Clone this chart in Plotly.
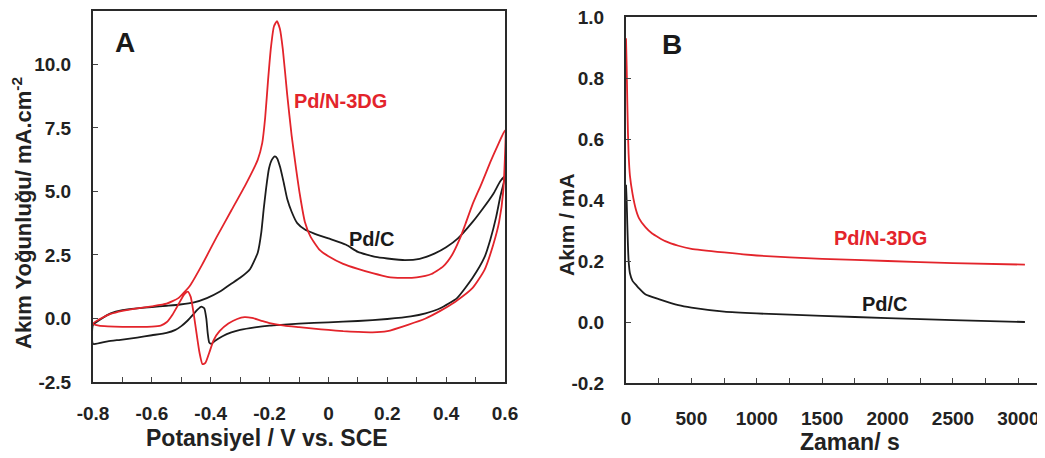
import plotly.graph_objects as go

# ---------------- Panel A : cyclic voltammograms ----------------
# Pd/N-3DG (red) – forward scan then reverse scan
cv_pdn3dg_potential = [
    -0.80, -0.78, -0.75, -0.70, -0.65, -0.60, -0.57, -0.55, -0.53, -0.51, -0.49, -0.478,
    -0.468, -0.458, -0.448, -0.438, -0.428, -0.418, -0.405, -0.39, -0.37, -0.34, -0.31,
    -0.285, -0.26, -0.23, -0.20, -0.15, -0.10, -0.05, 0.00, 0.05, 0.10, 0.15, 0.20, 0.27,
    0.33, 0.38, 0.43, 0.49, 0.53, 0.56, 0.58, 0.594, 0.60,
    0.575, 0.55, 0.52, 0.49, 0.465, 0.447, 0.42, 0.39, 0.35, 0.30, 0.25, 0.20, 0.15, 0.10,
    0.05, 0.00, -0.03, -0.06, -0.08, -0.096, -0.11, -0.125, -0.14, -0.155, -0.165, -0.175,
    -0.185, -0.195, -0.205, -0.215, -0.225, -0.24, -0.28, -0.33, -0.38, -0.43, -0.47, -0.51,
    -0.55, -0.60, -0.65, -0.70, -0.74, -0.77, -0.80,
]
cv_pdn3dg_current = [
    -0.20, -0.28, -0.31, -0.33, -0.33, -0.32, -0.28, -0.15, 0.15, 0.55, 0.95, 1.06,
    0.85, 0.20, -0.60, -1.35, -1.80, -1.75, -1.35, -0.85, -0.50, -0.20, -0.02,
    0.05, 0.02, -0.08, -0.18, -0.28, -0.34, -0.40, -0.45, -0.50, -0.53, -0.55, -0.50, -0.25,
    0.00, 0.30, 0.65, 1.20, 1.90, 2.90, 3.80, 5.00, 7.40,
    6.80, 6.15, 5.30, 4.50, 3.70, 3.15, 2.50, 2.05, 1.75, 1.62, 1.60, 1.64, 1.78, 1.95,
    2.15, 2.45, 2.70, 3.20, 3.80, 4.80, 5.90, 7.20, 8.80, 10.60, 11.40, 11.70,
    11.50, 10.70, 9.40, 7.90, 6.90, 6.25, 5.30, 4.25, 3.20, 2.10, 1.30, 0.80,
    0.58, 0.48, 0.40, 0.30, 0.18, 0.02, -0.20,
]

# Pd/C (black)
cv_pdc_potential = [
    -0.80, -0.75, -0.70, -0.65, -0.60, -0.55, -0.52, -0.50, -0.48, -0.46, -0.445, -0.432,
    -0.422, -0.415, -0.41, -0.405, -0.398, -0.385, -0.36, -0.33, -0.30, -0.25, -0.20, -0.15,
    -0.10, 0.00, 0.10, 0.20, 0.28, 0.33, 0.38, 0.437, 0.49, 0.53, 0.55, 0.57, 0.584, 0.60,
    0.584, 0.56, 0.52, 0.49, 0.44, 0.40, 0.36, 0.31, 0.26, 0.20, 0.16, 0.10, 0.06, 0.00,
    -0.05, -0.08, -0.106, -0.125, -0.14, -0.152, -0.164, -0.174, -0.182, -0.192, -0.202,
    -0.212, -0.22, -0.228, -0.24, -0.266, -0.30, -0.334, -0.37, -0.413, -0.46, -0.504,
    -0.55, -0.60, -0.65, -0.70, -0.74, -0.77, -0.80, -0.80,
]
cv_pdc_current = [
    -1.00, -0.90, -0.83, -0.75, -0.66, -0.57, -0.45, -0.30, -0.10, 0.15, 0.35, 0.47,
    0.40, 0.00, -0.60, -0.95, -1.00, -0.88, -0.70, -0.55, -0.45, -0.35, -0.28, -0.24,
    -0.20, -0.15, -0.10, -0.02, 0.08, 0.20, 0.40, 0.80, 1.60, 2.40, 3.10, 4.00, 4.80, 5.60,
    5.40, 4.90, 4.25, 3.80, 3.15, 2.80, 2.55, 2.35, 2.30, 2.36, 2.42, 2.62, 2.90, 3.15,
    3.35, 3.50, 3.75, 4.20, 4.70, 5.35, 5.95, 6.30, 6.38, 6.25, 5.90,
    5.10, 4.30, 3.40, 2.60, 1.95, 1.60, 1.34, 1.05, 0.80, 0.62, 0.55,
    0.50, 0.45, 0.40, 0.33, 0.20, 0.00, -0.25, -1.00,
]

# ---------------- Panel B : chronoamperometry ----------------
time_pdn3dg = [0, 5, 10, 15, 20, 30, 50, 75, 100, 150, 200, 300, 400, 500, 750, 1000, 1500,
               2000, 2500, 3050]
current_pdn3dg = [0.93, 0.84, 0.72, 0.62, 0.55, 0.48, 0.42, 0.37, 0.34, 0.31, 0.29, 0.265,
                  0.25, 0.24, 0.228, 0.218, 0.207, 0.200, 0.193, 0.188]
time_pdc = [0, 5, 10, 15, 20, 30, 50, 80, 100, 150, 250, 400, 500, 750, 1000, 1500, 2000,
            2500, 3050]
current_pdc = [0.45, 0.40, 0.32, 0.25, 0.20, 0.16, 0.135, 0.12, 0.11, 0.09, 0.075, 0.055,
               0.047, 0.034, 0.028, 0.020, 0.013, 0.006, 0.0]

# tick labels
a_xticks = [-0.8, -0.6, -0.4, -0.2, 0, 0.2, 0.4, 0.6]
a_xticktext = ["-0.8", "-0.6", "-0.4", "-0.2", "0", "0.2", "0.4", "0.6"]
a_yticks = [-2.5, 0, 2.5, 5, 7.5, 10]
a_yticktext = ["-2.5", "0.0", "2.5", "5.0", "7.5", "10.0"]
b_xticks = [0, 500, 1000, 1500, 2000, 2500, 3000]
b_xticktext = ["0", "500", "1000", "1500", "2000", "2500", "3000"]
b_yticks = [-0.2, 0, 0.2, 0.4, 0.6, 0.8, 1.0]
b_yticktext = ["-0.2", "0.0", "0.2", "0.4", "0.6", "0.8", "1.0"]

RED = "#e3242b"
BLACK = "#1c1c1c"
FONT = "Liberation Sans, Arial, sans-serif"

fig = go.Figure()
fig.add_trace(go.Scatter(x=cv_pdc_potential, y=cv_pdc_current, mode="lines",
                         line=dict(color=BLACK, width=1.8, shape="spline", smoothing=0.5),
                         name="Pd/C", xaxis="x", yaxis="y"))
fig.add_trace(go.Scatter(x=cv_pdn3dg_potential, y=cv_pdn3dg_current, mode="lines",
                         line=dict(color=RED, width=1.8, shape="spline", smoothing=0.5),
                         name="Pd/N-3DG", xaxis="x", yaxis="y"))
fig.add_trace(go.Scatter(x=time_pdc, y=current_pdc, mode="lines",
                         line=dict(color=BLACK, width=1.8, shape="spline", smoothing=0.4),
                         name="Pd/C", xaxis="x2", yaxis="y2"))
fig.add_trace(go.Scatter(x=time_pdn3dg, y=current_pdn3dg, mode="lines",
                         line=dict(color=RED, width=1.8, shape="spline", smoothing=0.4),
                         name="Pd/N-3DG", xaxis="x2", yaxis="y2"))

# The page body has an 8px margin, so the figure is sized to fit inside the window
OX, OY = 8, 8
W, H = 1045 - OX, 458 - OY


def px(x):  # page pixel x -> paper fraction
    return (x - OX) / W


def py(y):  # page pixel y -> paper fraction (from bottom)
    return 1 - (y - OY) / H


axis_common = dict(showline=True, linecolor="#2a2a2a", linewidth=2, mirror=True,
                   ticks="inside", ticklen=5, tickwidth=1.2, tickcolor="#444",
                   showgrid=False, zeroline=False, automargin=False,
                   ticklabeloverflow="allow",
                   tickfont=dict(family=FONT, size=19, color="#222", weight="bold"))

fig.update_layout(
    width=W, height=H,
    margin=dict(l=0, r=0, t=0, b=0, pad=0),
    paper_bgcolor="white", plot_bgcolor="white",
    showlegend=False,
    font=dict(family=FONT),
    xaxis=dict(domain=[px(93), px(505)], range=[-0.8, 0.6], anchor="y",
               tickvals=a_xticks, ticktext=a_xticktext, ticklabelstandoff=13,
               minor=dict(ticks="inside", ticklen=5, dtick=0.1, tick0=-0.8, tickcolor="#444"),
               **axis_common),
    yaxis=dict(domain=[py(382), py(11)], range=[-2.5, 12.1], anchor="x",
               tickvals=a_yticks, ticktext=a_yticktext, ticklabelstandoff=16,
               **axis_common),
    xaxis2=dict(domain=[px(626), px(1038)], range=[0, 3150], anchor="y2",
                tickvals=b_xticks, ticktext=b_xticktext, ticklabelstandoff=17,
                minor=dict(ticks="inside", ticklen=5, dtick=250, tick0=0, tickcolor="#444"),
                **axis_common),
    yaxis2=dict(domain=[py(383), py(17)], range=[-0.2, 1.0], anchor="x2",
                tickvals=b_yticks, ticktext=b_yticktext, ticklabelstandoff=16,
                **axis_common),
)


def txt(s, x, y, size, color="#1a1a1a", xref="paper", yref="paper", angle=0):
    fig.add_annotation(text=s, x=x, y=y, xref=xref, yref=yref, showarrow=False,
                       textangle=angle, xanchor="center", yanchor="middle",
                       font=dict(family=FONT, size=size, color=color, weight="bold"))


# panel letters
txt("A", px(125), py(43), 28)
txt("B", px(672), py(45), 28)
# curve labels
txt("Pd/N-3DG", 0.04, 8.54, 20, RED, "x", "y")
txt("Pd/C", 0.149, 3.11, 20, "#1a1a1a", "x", "y")
txt("Pd/N-3DG", 1943, 0.276, 20, RED, "x2", "y2")
txt("Pd/C", 1982, 0.0585, 20, "#1a1a1a", "x2", "y2")
# axis titles
txt("Akım Yoğunluğu/ mA.cm<sup>-2</sup>", px(22), py(213), 22, "#222", angle=-90)
txt("Akım / mA", px(566), py(225), 21, "#222", angle=-90)
txt("Potansiyel / V vs. SCE", px(267), py(438), 23, "#222")
txt("Zaman/ s", px(850), py(442), 23, "#222")

fig.write_html("out.html")
